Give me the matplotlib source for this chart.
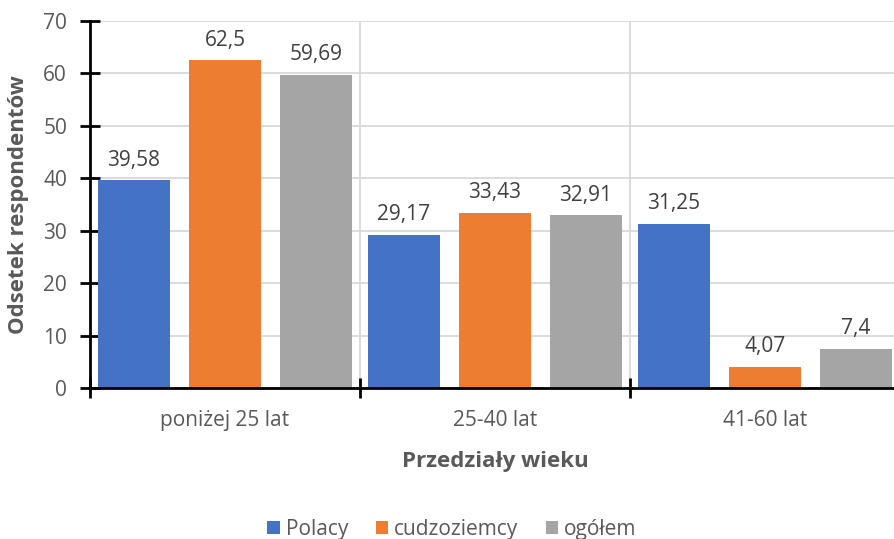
import matplotlib
matplotlib.use('agg')
import matplotlib.pyplot as plt
import numpy as np

categories = ["poniżej 25 lat", "25-40 lat", "41-60 lat"]
series = ["Polacy", "cudzoziemcy", "ogółem"]
polacy = [39.58, 29.17, 31.25]
cudzoziemcy = [62.5, 33.43, 4.07]
ogolem = [59.69, 32.91, 7.4]
labels_pl = ["39,58", "29,17", "31,25"]
labels_cu = ["62,5", "33,43", "4,07"]
labels_og = ["59,69", "32,91", "7,4"]

colors = ["#4472C4", "#ED7D31", "#A5A5A5"]

plt.rcParams['font.family'] = ['Open Sans', 'DejaVu Sans']

fig = plt.figure(figsize=(8.94, 5.39), dpi=100)
ax = fig.add_axes([90/894, 1-388/539, 810/894, 367/539])

x = np.arange(len(categories))
w = 0.267
offs = [-0.337, 0.0, 0.337]
data = [polacy, cudzoziemcy, ogolem]
labs = [labels_pl, labels_cu, labels_og]
for i in range(3):
    bars = ax.bar(x + offs[i], data[i], w, color=colors[i], label=series[i], zorder=3)
    for b, t in zip(bars, labs[i]):
        ax.annotate(t, (b.get_x() + b.get_width()/2, b.get_height()), xytext=(0, 7),
                    textcoords='offset points', ha='center', va='bottom',
                    fontsize=15, color='#404040')

ax.set_xlim(-0.5, 2.5)
ax.set_ylim(0, 70)
ax.set_yticks(np.arange(0, 71, 10))
ax.set_xticks([-0.5, 0.5, 1.5, 2.5])
ax.set_xticklabels([])
ax.set_xticks(x, minor=True)
ax.set_xticklabels(categories, minor=True)
ax.tick_params(axis='x', which='minor', length=0, pad=16, labelsize=15, labelcolor='#595959')
ax.tick_params(axis='x', which='major', direction='inout', length=15, width=2, color='black')
ax.tick_params(axis='y', direction='inout', length=15, width=2, color='black',
               labelsize=15, labelcolor='#595959', pad=9)

ax.grid(True, axis='y', color='#D9D9D9', lw=1.3, zorder=0)
ax.grid(True, axis='x', which='major', color='#D9D9D9', lw=1.3, zorder=0)
for s in ['top', 'right']:
    ax.spines[s].set_visible(False)
for s in ['left', 'bottom']:
    ax.spines[s].set_linewidth(2)
    ax.spines[s].set_zorder(4)

ax.set_ylabel("Odsetek respondentów", fontsize=16, fontweight='bold', color='#595959', labelpad=10)
ax.set_xlabel("Przedziały wieku", fontsize=16, fontweight='bold', color='#595959', labelpad=14)

fig.legend(loc='center', bbox_to_anchor=(452/894, 1-529/539), ncol=3, frameon=False,
           fontsize=15, labelcolor='#595959', handlelength=0.6, handleheight=0.6,
           handletextpad=0.3, columnspacing=1.3)

fig.savefig('out.png', dpi=100)
